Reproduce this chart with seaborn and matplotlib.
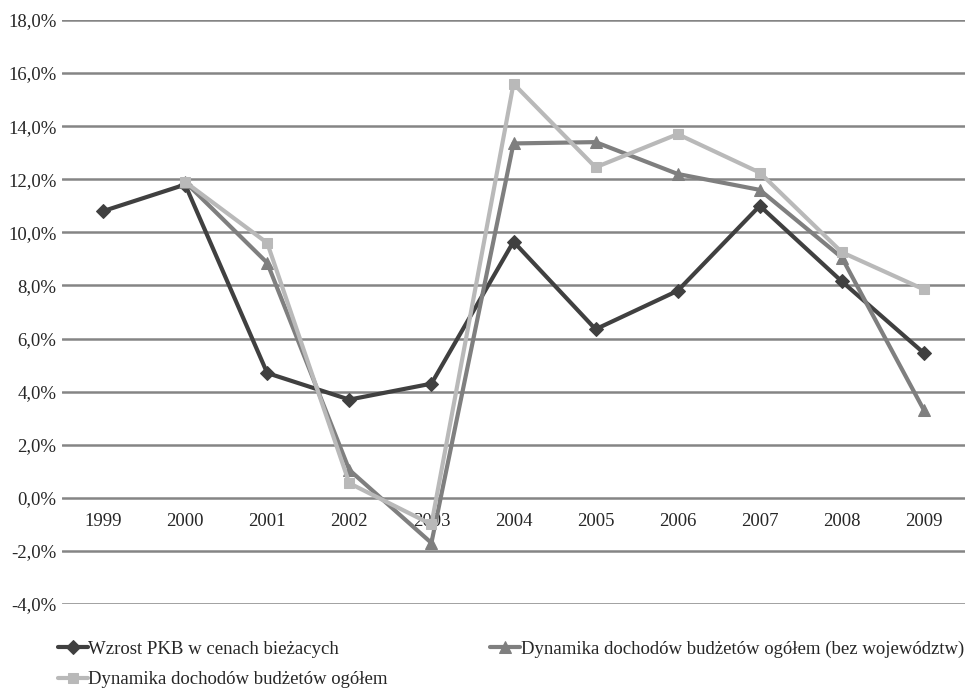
import numpy as np
import pandas as pd
import matplotlib
matplotlib.use('Agg')
import matplotlib.pyplot as plt
from matplotlib.ticker import FuncFormatter
import seaborn as sns

# dane
years = ['1999', '2000', '2001', '2002', '2003', '2004', '2005', '2006', '2007', '2008', '2009']
pkb = [10.8, 11.8, 4.7, 3.7, 4.3, 9.65, 6.35, 7.8, 11.0, 8.15, 5.45]
doch_bez_woj = [np.nan, 11.9, 8.85, 1.05, -1.7, 13.35, 13.4, 12.2, 11.6, 9.05, 3.3]
doch_ogolem = [np.nan, 11.9, 9.6, 0.55, -1.0, 15.6, 12.45, 13.7, 12.25, 9.25, 7.85]

labels = ['Wzrost PKB w cenach bieżacych',
          'Dynamika dochodów budżetów ogółem (bez województw)',
          'Dynamika dochodów budżetów ogółem']

sns.set_theme(style="white")
plt.rcParams['font.family'] = ['Liberation Serif', 'DejaVu Serif']

fig = plt.figure(figsize=(9.67, 6.93), dpi=100)
ax = fig.add_axes([62 / 967, 1 - 604 / 693, (965 - 62) / 967, (604 - 20) / 693])

x = np.arange(len(years))
series = [
    (pkb, labels[0], '#404040', 'D', 7),
    (doch_bez_woj, labels[1], '#7f7f7f', '^', 8),
    (doch_ogolem, labels[2], '#b9b9b9', 's', 7),
]
for vals, lab, col, mk, ms in series:
    df = pd.DataFrame({'x': x, 'y': vals})
    sns.lineplot(data=df, x='x', y='y', ax=ax, color=col, marker=mk, markersize=ms,
                 markeredgecolor=col, linewidth=3, label=lab, zorder=3)

ax.set_ylim(-4, 18)
ax.set_xlim(-0.5, len(years) - 0.5)
ax.set_yticks(np.arange(-4, 18.1, 2))
ax.yaxis.set_major_formatter(FuncFormatter(lambda v, p: f'{v:.1f}'.replace('.', ',') + '%'))
ax.grid(axis='y', color='#858585', linewidth=1.8)
ax.set_axisbelow(True)
for s in ax.spines.values():
    s.set_visible(False)
ax.set_xticks(x)
ax.set_xticklabels(years)
ax.spines['bottom'].set_position(('data', 0))
ax.tick_params(axis='x', length=0, pad=11, labelsize=13.5)
ax.tick_params(axis='y', length=0, pad=4, labelsize=13.5)
ax.set_xlabel('')
ax.set_ylabel('')

h, l = ax.get_legend_handles_labels()
ax.get_legend().remove()
order = [0, 2, 1]
fig.legend([h[i] for i in order], [l[i] for i in order], ncol=2, loc='upper left',
           bbox_to_anchor=(50 / 967, 1 - 633 / 693), frameon=False, fontsize=13.5,
           handlelength=1.6, handletextpad=0.05, columnspacing=5.45, labelspacing=0.72,
           borderaxespad=0)

plt.savefig('out.png', dpi=100)
